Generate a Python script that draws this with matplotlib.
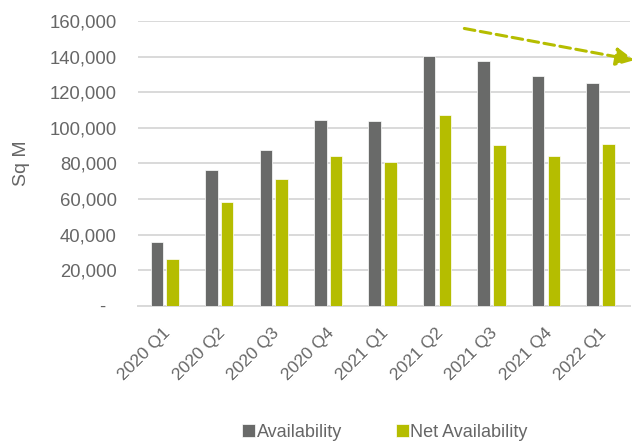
import matplotlib.pyplot as plt
from matplotlib.ticker import FuncFormatter
from matplotlib.transforms import ScaledTranslation
import numpy as np

plt.rcParams["font.family"] = ["Liberation Sans", "DejaVu Sans"]

quarters = ["2020 Q1", "2020 Q2", "2020 Q3", "2020 Q4", "2021 Q1",
            "2021 Q2", "2021 Q3", "2021 Q4", "2022 Q1"]
availability = [35700, 76100, 87500, 104400, 103800, 140300, 137400, 129100, 125300]
net_availability = [26100, 58500, 71200, 84100, 80800, 107200, 90300, 84000, 90900]

GREY = "#696A69"
LIME = "#B5BD00"
TEXT = "#666666"
GRID = "#D9D9D9"

fig = plt.figure(figsize=(6.32, 4.43), dpi=100)
ax = fig.add_axes([0.2176, 0.31, 0.78, 0.6426])

x = np.arange(len(quarters))
w = 0.23
ax.bar(x - 0.145, availability, w, color=GREY, edgecolor="white",
       linewidth=0.5, label="Availability", zorder=3)
ax.bar(x + 0.145, net_availability, w, color=LIME, edgecolor="white",
       linewidth=0.5, label="Net Availability", zorder=3)

ax.set_xlim(-0.5, len(quarters) - 0.45)
ax.set_ylim(0, 160000)
ax.set_yticks(np.arange(0, 160001, 20000))
ax.yaxis.set_major_formatter(FuncFormatter(
    lambda v, p: "-  " if v == 0 else f"{int(v):,}"))
ax.grid(axis="y", color=GRID, linewidth=1.4, zorder=0)
for s in ["top", "right", "left"]:
    ax.spines[s].set_visible(False)
ax.spines["bottom"].set_color(GRID)
ax.spines["bottom"].set_linewidth(1.4)
ax.tick_params(axis="both", length=0, colors=TEXT)
ax.tick_params(axis="y", pad=15, labelsize=13.3)

ax.set_xticks(x)
ax.set_xticklabels(quarters, rotation=45, ha="right", va="top",
                   rotation_mode="anchor", fontsize=12.5)
ax.tick_params(axis="x", pad=14)
shift = ScaledTranslation(-2 / 100, 0, fig.dpi_scale_trans)
for lab in ax.get_xticklabels():
    lab.set_transform(lab.get_transform() + shift)

ax.set_ylabel("Sq M", color=TEXT, fontsize=14, labelpad=14)

# trend arrow
ax.annotate("", xy=(8.62, 138000), xytext=(5.5, 155800),
            arrowprops=dict(arrowstyle="-|>,head_length=1.1,head_width=0.55",
                            color=LIME, lw=2.2, linestyle=(0, (3.5, 1.8)),
                            shrinkA=0, shrinkB=0),
            annotation_clip=False)

fig.legend(loc="center", bbox_to_anchor=(0.609, 0.024), ncol=2,
           frameon=False, fontsize=13, labelcolor=TEXT,
           handlelength=0.7, handleheight=0.7, handletextpad=0.1,
           columnspacing=3.0, borderpad=0)

fig.savefig("out.png", dpi=100, facecolor="white")
